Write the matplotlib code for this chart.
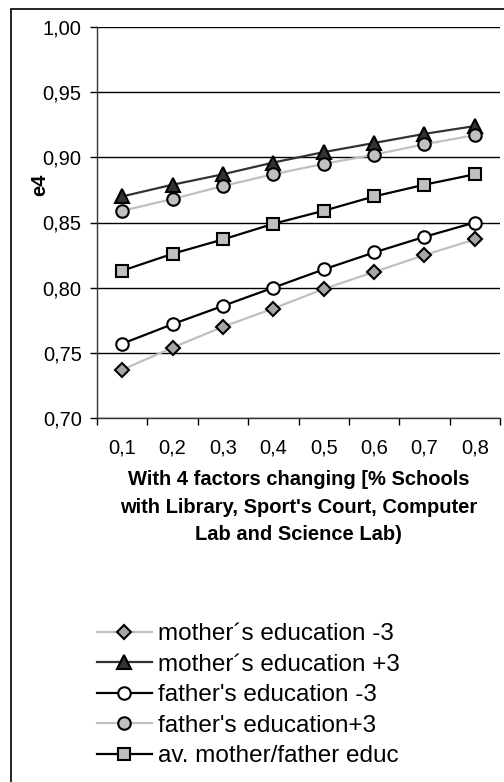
import matplotlib
matplotlib.use("Agg")
import matplotlib.pyplot as plt
from matplotlib.patches import Rectangle
from matplotlib.ticker import FixedLocator, FuncFormatter, NullFormatter

plt.rcParams['font.family'] = ['Liberation Sans', 'DejaVu Sans']

# data
x_labels = ['0,1', '0,2', '0,3', '0,4', '0,5', '0,6', '0,7', '0,8']
mother_minus3 = [0.737, 0.754, 0.770, 0.784, 0.799, 0.812, 0.825, 0.837]
mother_plus3 = [0.870, 0.879, 0.887, 0.896, 0.904, 0.911, 0.918, 0.924]
father_minus3 = [0.757, 0.772, 0.786, 0.800, 0.814, 0.827, 0.839, 0.850]
father_plus3 = [0.859, 0.868, 0.878, 0.887, 0.895, 0.902, 0.910, 0.917]
av_educ = [0.813, 0.826, 0.837, 0.849, 0.859, 0.870, 0.879, 0.887]
y_ticks = [0.70, 0.75, 0.80, 0.85, 0.90, 0.95, 1.00]

W, H = 504, 782
fig = plt.figure(figsize=(W / 100, H / 100), dpi=100)
ax = fig.add_axes([97 / W, 1 - 418 / H, 403 / W, 391 / H])

xs = list(range(1, len(x_labels) + 1))
lw = 1.6
mew = 1.5

ax.plot(xs, mother_minus3, color='#c0c0c0', lw=lw, marker='D', ms=7.5,
        mfc='#a6a6a6', mec='black', mew=mew, label='mother\u00b4s education -3')
ax.plot(xs, mother_plus3, color='#333333', lw=lw, marker='^', ms=10,
        mfc='#333333', mec='black', mew=mew, label='mother\u00b4s education +3')
ax.plot(xs, father_minus3, color='black', lw=lw, marker='o', ms=9,
        mfc='white', mec='black', mew=mew, label="father's education -3")
ax.plot(xs, father_plus3, color='#c0c0c0', lw=lw, marker='o', ms=9,
        mfc='#c0c0c0', mec='black', mew=mew, label="father's education+3")
ax.plot(xs, av_educ, color='black', lw=lw, marker='s', ms=9,
        mfc='#c0c0c0', mec='black', mew=mew, label='av. mother/father educ')

ax.set_xlim(0.5, len(x_labels) + 0.5)
ax.set_ylim(0.70, 1.00)

# category axis: ticks between categories, labels centred on them
ax.xaxis.set_major_locator(FixedLocator([i + 0.5 for i in range(len(x_labels) + 1)]))
ax.xaxis.set_major_formatter(NullFormatter())
ax.set_xticks(xs, labels=x_labels, minor=True)
ax.tick_params(axis='x', which='major', direction='out', length=5, width=1)
ax.tick_params(axis='x', which='minor', length=0, pad=15, labelsize=14.5)

ax.set_yticks(y_ticks)
ax.yaxis.set_major_formatter(FuncFormatter(lambda v, p: f'{v:.2f}'.replace('.', ',')))
ax.tick_params(axis='y', direction='out', length=5, width=1, pad=6, labelsize=14.5)

ax.grid(axis='y', color='black', lw=1)
ax.set_axisbelow(True)
for side in ['top', 'right']:
    ax.spines[side].set_visible(False)
for side in ['left', 'bottom']:
    ax.spines[side].set_color('#333333')
    ax.spines[side].set_linewidth(1)

ax.set_xlabel("With 4 factors changing [% Schools\nwith Library, Sport's Court, Computer\nLab and Science Lab)",
              fontsize=14.5, fontweight='bold', linespacing=1.55, labelpad=9)
fig.text(40 / W, 1 - 185 / H, 'e4', rotation=90, ha='center', va='center',
         fontsize=14.5, fontweight='bold')

ax.legend(loc='upper left', bbox_to_anchor=(97 / W, 1 - 623 / H),
          bbox_transform=fig.transFigure, frameon=False, fontsize=17.5,
          handlelength=2.25, handletextpad=0.25, labelspacing=0.35,
          borderpad=0, borderaxespad=0)

# outer chart frame (cut off at the right and bottom edges)
fig.patches.append(Rectangle((11 / W, -0.1), 1.2, 1.1 - 9 / H, transform=fig.transFigure,
                             fill=False, edgecolor='black', lw=1.2))

fig.savefig('out.png', dpi=100)
